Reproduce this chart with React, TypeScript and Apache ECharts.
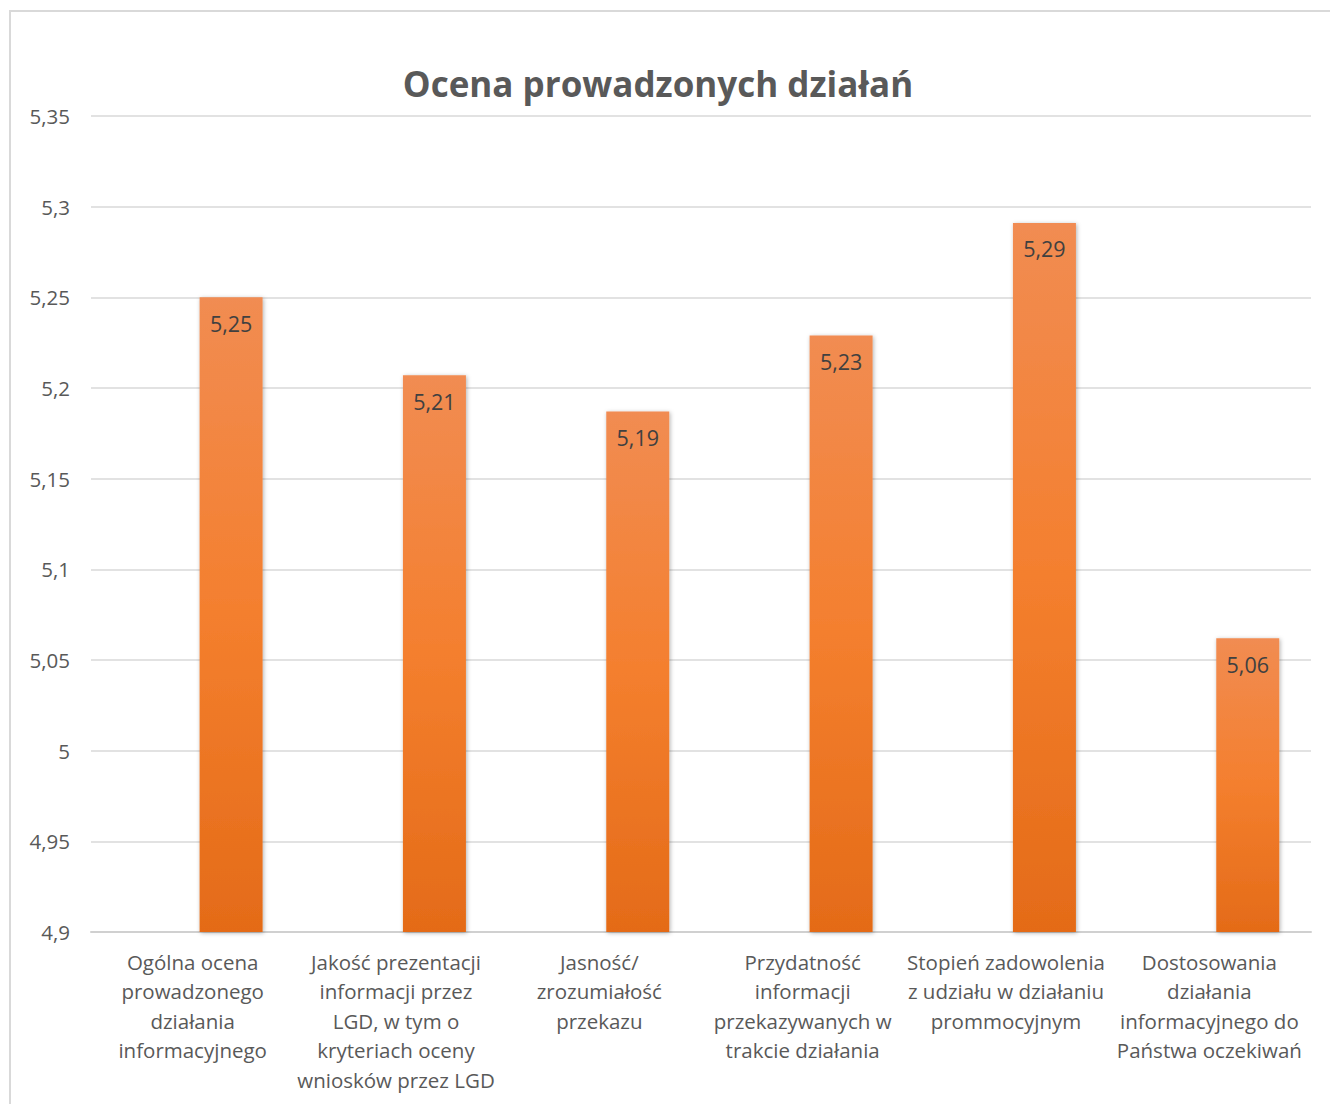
import React, { useEffect, useRef } from "react";
import * as echarts from "echarts";

const title = "Ocena prowadzonych działań";
const categories = [
  "Ogólna ocena\nprowadzonego\ndziałania\ninformacyjnego",
  "Jakość prezentacji\ninformacji przez\nLGD, w tym o\nkryteriach oceny\nwniosków przez LGD",
  "Jasność/\nzrozumiałość\nprzekazu",
  "Przydatność\ninformacji\nprzekazywanych w\ntrakcie działania",
  "Stopień zadowolenia\nz udziału w działaniu\nprommocyjnym",
  "Dostosowania\ndziałania\ninformacyjnego do\nPaństwa oczekiwań",
];
const values = [5.25, 5.207, 5.187, 5.229, 5.291, 5.062];
const emptyValues = ["-", "-", "-", "-", "-", "-"];
const yMin = 4.9;
const yMax = 5.35;
const yInterval = 0.05;

const fmt = (v: number, digits?: number) => {
  const s = digits !== undefined ? v.toFixed(digits) : String(parseFloat(v.toFixed(2)));
  return s.replace(".", ",");
};

export default function App() {
  const ref = useRef<HTMLDivElement>(null);
  useEffect(() => {
    if (!ref.current) return;
    const chart = echarts.init(ref.current, null, { renderer: "svg" });
    const font = "'Open Sans', sans-serif";
    chart.setOption({
      animation: false,
      backgroundColor: "#ffffff",
      graphic: [
        {
          type: "rect",
          shape: { x: 10, y: 11, width: 1400, height: 1200 },
          style: { fill: "none", stroke: "#d9d9d9", lineWidth: 2 },
          silent: true,
        },
        {
          type: "text",
          x: 658,
          y: 83,
          style: {
            text: title,
            align: "center",
            verticalAlign: "middle",
            font: "bold 35px 'Open Sans', sans-serif",
            fill: "#595959",
          },
          silent: true,
        },
      ],
      grid: { left: 91, right: 19, top: 116, bottom: 172, containLabel: false },
      xAxis: {
        type: "category",
        data: categories,
        axisLine: { show: true, lineStyle: { color: "#d0d0d0", width: 2 } },
        axisTick: { show: false },
        axisLabel: {
          interval: 0,
          margin: 15,
          fontFamily: font,
          fontSize: 20.5,
          lineHeight: 29.5,
          color: "#595959",
          align: "center",
        },
      },
      yAxis: {
        type: "value",
        min: yMin,
        max: yMax,
        interval: yInterval,
        axisLine: { show: false },
        axisTick: { show: false },
        splitLine: { lineStyle: { color: "#d9d9d9", width: 1.5 } },
        axisLabel: {
          margin: 21,
          fontFamily: font,
          fontSize: 20.5,
          color: "#595959",
          formatter: (v: number) => fmt(v),
        },
      },
      series: [
        {
          type: "bar",
          data: emptyValues,
          barWidth: 63,
          barGap: "22%",
          silent: true,
        },
        {
          type: "bar",
          data: values,
          barWidth: 63,
          barGap: "22%",
          itemStyle: {
            color: new echarts.graphic.LinearGradient(0, 0, 0, 1, [
              { offset: 0, color: "#f18c52" },
              { offset: 0.5, color: "#f47f2e" },
              { offset: 1, color: "#e46b18" },
            ]),
            shadowColor: "rgba(0,0,0,0.3)",
            shadowBlur: 4,
            shadowOffsetX: 1,
            shadowOffsetY: 1,
          },
          label: {
            show: true,
            position: "insideTop",
            distance: 15,
            fontFamily: font,
            fontSize: 21.5,
            color: "#404040",
            formatter: (p: any) => fmt(p.value, 2),
          },
        },
      ],
    });
    return () => chart.dispose();
  }, []);
  return (
    <div
      ref={ref}
      style={{ position: "fixed", left: 0, top: 0, width: 1330, height: 1104 }}
    />
  );
}
